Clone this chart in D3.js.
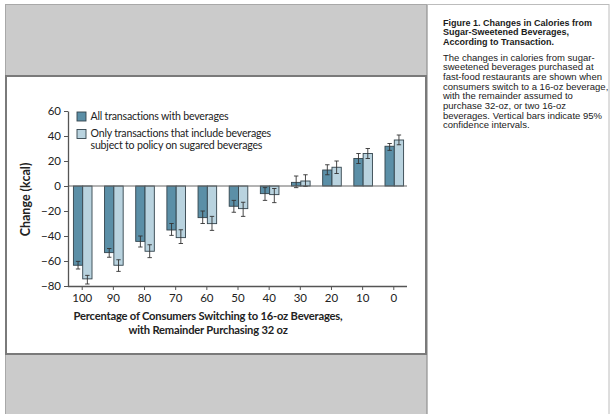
<!DOCTYPE html>
<html>
<head>
<meta charset="utf-8">
<script src="https://cdn.jsdelivr.net/npm/d3@7"></script>
<style>
  body { margin: 0; background: #fff; }
  svg { display: block; }
</style>
</head>
<body>
<div id="figure"></div>
<script>
// data (kcal change per transaction)
const categories = ["100", "90", "80", "70", "60", "50", "40", "30", "20", "10", "0"];
const allValues  = [-63.4, -53.3, -44.3, -35.2, -25.3, -16.2, -6.1, 2.9, 12.8, 22, 31.8];
const allLow     = [-66.4, -57, -48.8, -39.5, -30, -21, -11.5, -1.3, 9, 18, 28.5];
const allHigh    = [-60.3, -50, -40, -30, -20, -11.5, -1.3, 8, 17, 26, 34];
const policyValues = [-74.3, -63.4, -52.2, -41.3, -30.1, -18.1, -6.9, 4, 15, 26, 36.8];
const policyLow    = [-78.4, -68.3, -57.3, -46, -35.5, -24.3, -13.3, -0.3, 10, 22, 33];
const policyHigh   = [-71.5, -59, -47, -35, -24.3, -13, -2, 9, 20, 30, 40.8];
const yTicks = [-80, -60, -40, -20, 0, 20, 40, 60];
const legendLabels = [["All transactions with beverages"],
                      ["Only transactions that include beverages", "subject to policy on sugared beverages"]];
const captionTitle = ["Figure 1. Changes in Calories from", "Sugar-Sweetened Beverages,", "According to Transaction."];
const captionBody = ["The changes in calories from sugar-", "sweetened beverages purchased at",
  "fast-food restaurants are shown when", "consumers switch to a 16-oz beverage,",
  "with the remainder assumed to", "purchase 32-oz, or two 16-oz",
  "beverages. Vertical bars indicate 95%", "confidence intervals."];

class CalorieChart {

    constructor () {
        this.width = 615;
        this.height = 414;
        this.font = "Lato, 'Open Sans', sans-serif";

        this.svg = d3.select("#figure").append("svg")
            .attr("width", this.width)
            .attr("height", this.height);

        this.x = d3.scalePoint()
            .domain(categories)
            .range([68, 407])
            .padding(0.44);
        this.y = d3.scaleLinear()
            .domain([-80, 60])
            .range([286, 111]);

        this.colors = ["#5b8fa7", "#b9d3df"];
        this.barWidth = 9.3;

        this.drawFrame();
        this.update();
        this.drawCaption();
    };

    drawFrame() {
        // grey page behind the figure
        this.svg.append("rect")
            .attr("x", 5.5).attr("y", 4.5)
            .attr("width", 421).attr("height", 420)
            .style("fill", "#cbcbcb")
            .style("stroke", "#a8a8a8");
        // white figure box
        this.svg.append("rect")
            .attr("x", 6).attr("y", 76)
            .attr("width", 420).attr("height", 278)
            .style("fill", "#fff")
            .style("stroke", "#7a7a7a")
            .style("stroke-width", 2);
        // caption panel
        this.svg.append("rect")
            .attr("x", 427.5).attr("y", 4.5)
            .attr("width", 181.5).attr("height", 420)
            .style("fill", "#fff")
            .style("stroke", "#bcbcbc");
    }

    update () {
        let g = this.svg.append("g");
        let series = [
            {vals: allValues, lo: allLow, hi: allHigh, off: -this.barWidth + 1},
            {vals: policyValues, lo: policyLow, hi: policyHigh, off: 1}
        ];

        series.forEach((s, si) => {
            g.append("g").selectAll("rect")
                .data(categories)
                .enter().append("rect")
                .attr("x", d => this.x(d) + s.off)
                .attr("width", this.barWidth)
                .attr("y", (d, i) => this.y(Math.max(0, s.vals[i])))
                .attr("height", (d, i) => Math.abs(this.y(s.vals[i]) - this.y(0)))
                .style("fill", this.colors[si])
                .style("stroke", "#33444d")
                .style("stroke-width", 0.9);

            // confidence intervals
            let eb = g.append("g").selectAll("g")
                .data(categories)
                .enter().append("g")
                .attr("transform", d => "translate(" + (this.x(d) + s.off + this.barWidth / 2) + ",0)")
                .style("stroke", "#333")
                .style("stroke-width", 0.9);
            eb.append("line")
                .attr("y1", (d, i) => this.y(s.lo[i]))
                .attr("y2", (d, i) => this.y(s.hi[i]));
            eb.append("line")
                .attr("x1", -2.2).attr("x2", 2.2)
                .attr("y1", (d, i) => this.y(s.lo[i]))
                .attr("y2", (d, i) => this.y(s.lo[i]));
            eb.append("line")
                .attr("x1", -2.2).attr("x2", 2.2)
                .attr("y1", (d, i) => this.y(s.hi[i]))
                .attr("y2", (d, i) => this.y(s.hi[i]));
        });

        // zero line
        g.append("line")
            .attr("x1", 68).attr("x2", 407)
            .attr("y1", this.y(0)).attr("y2", this.y(0))
            .style("stroke", "#666")
            .style("stroke-width", 1);

        // axes
        let yAxis = this.svg.append("g")
            .attr("transform", "translate(68,0)")
            .call(d3.axisLeft(this.y).tickValues(yTicks).tickSize(4).tickSizeOuter(0).tickPadding(3));
        let xAxis = this.svg.append("g")
            .attr("transform", "translate(0," + this.y(-80) + ")")
            .call(d3.axisBottom(this.x).tickSize(4).tickSizeOuter(0).tickPadding(4));
        [xAxis, yAxis].forEach(a => {
            a.select(".domain").style("stroke", "#555").style("stroke-width", 1.3);
            a.selectAll(".tick line").style("stroke", "#555").style("stroke-width", 1);
            a.selectAll("text")
                .style("font-family", this.font)
                .style("font-size", "11.5px")
                .style("fill", "#222");
        });
        xAxis.select(".domain").attr("d", "M68,0.5H407");

        // legend
        let leg = this.svg.append("g");
        legendLabels.forEach((lines, i) => {
            let top = 112 + i * 17.5;
            leg.append("rect")
                .attr("x", 77).attr("y", top)
                .attr("width", 9).attr("height", 9)
                .style("fill", this.colors[i])
                .style("stroke", "#33444d")
                .style("stroke-width", 0.9);
            lines.forEach((t, j) => {
                leg.append("text")
                    .attr("x", 90.5)
                    .attr("y", top + 7.8 + j * 11.5)
                    .style("font-family", this.font)
                    .style("font-size", "10.6px")
                    .style("letter-spacing", "-0.2px")
                    .style("fill", "#222")
                    .text(t);
            });
        });

        // axis titles
        this.svg.append("text")
            .attr("transform", "translate(30,199.5) rotate(-90)")
            .attr("text-anchor", "middle")
            .style("font-family", this.font)
            .style("font-size", "12.5px")
            .style("font-weight", "bold")
            .style("fill", "#222")
            .text("Change (kcal)");
        ["Percentage of Consumers Switching to 16-oz Beverages,", "with Remainder Purchasing 32 oz"]
            .forEach((t, i) => {
                this.svg.append("text")
                    .attr("x", 208)
                    .attr("y", 320 + i * 13.5)
                    .attr("text-anchor", "middle")
                    .style("font-family", this.font)
                    .style("font-size", "11.2px")
                    .style("letter-spacing", "-0.2px")
                    .style("font-weight", "bold")
                    .style("fill", "#222")
                    .text(t);
            });
    }

    drawCaption() {
        let cap = this.svg.append("g")
            .style("font-family", "'Liberation Sans', Arial, sans-serif")
            .style("fill", "#1a1a1a");
        captionTitle.forEach((t, i) => {
            cap.append("text")
                .attr("x", 443).attr("y", 25.5 + i * 9.7)
                .style("font-size", "9px")
                .style("font-weight", "bold")
                .text(t);
        });
        captionBody.forEach((t, i) => {
            cap.append("text")
                .attr("x", 443).attr("y", 60.5 + i * 9.7)
                .style("font-size", "9.5px")
                .text(t);
        });
    }
};

new CalorieChart();
</script>
</body>
</html>
